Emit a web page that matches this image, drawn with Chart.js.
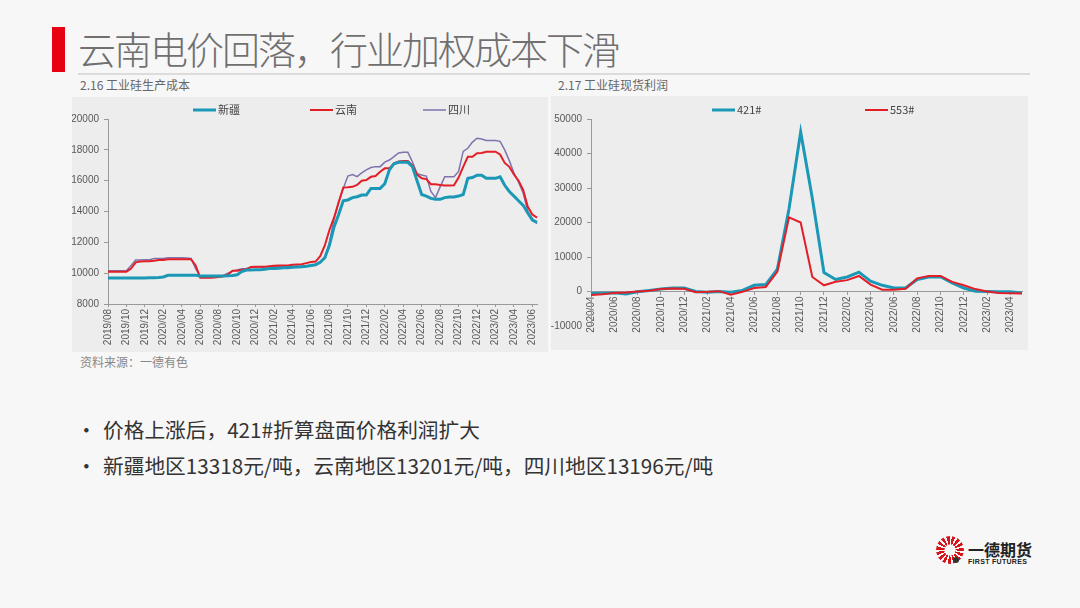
<!DOCTYPE html>
<html>
<head>
<meta charset="utf-8">
<script src="https://cdn.jsdelivr.net/npm/chart.js@4.4.1/dist/chart.umd.min.js"></script>
<style>
  body { margin:0; width:1080px; height:608px; background:#f7f7f7; position:relative; overflow:hidden;
         font-family:"Noto Sans CJK SC","Noto Sans",sans-serif; }
  .abs { position:absolute; white-space:nowrap; }
  #bar { left:52px; top:27px; width:13px; height:45px; background:#e60012; }
  #title { left:78px; top:29px; font-size:38px; line-height:38px; color:#707070; font-weight:300; letter-spacing:-2px; }
  #rule { left:78px; top:73px; width:952px; height:2px; background:#dcdcdc; }
  .sub { top:77px; font-size:12px; line-height:16px; color:#666; }
  .panel { background:#ededed; }
  #src { left:80px; top:354px; font-size:12px; line-height:16px; color:#888; }
  .bul { font-size:20.7px; line-height:24px; color:#333; }
  #logoMark { left:936px; top:536px; width:28px; height:28px; border-radius:50%;
              background:repeating-conic-gradient(from 200deg, #d7141a 0 14deg, #f7f7f7 14deg 24deg);
              -webkit-mask:radial-gradient(circle, transparent 0 5px, #000 6px); }
  #logoDot { left:953px; top:557px; width:6px; height:6px; border-radius:50%; background:#333; }
  #logoCn { left:968px; top:539px; font-size:16px; line-height:20px; font-weight:700; color:#222; }
  #logoEn { left:968px; top:557px; font-size:7px; line-height:9px; font-weight:700; color:#222;
            font-family:"Liberation Sans",Arial,sans-serif; letter-spacing:0.3px; }
</style>
</head>
<body>
<div class="abs" id="bar"></div>
<div class="abs" id="title">云南电价回落，行业加权成本下滑</div>
<div class="abs" id="rule"></div>
<div class="abs sub" style="left:80px">2.16 工业硅生产成本</div>
<div class="abs sub" style="left:558px">2.17 工业硅现货利润</div>

<div class="abs panel" style="left:72px;top:97px;width:476px;height:255px">
  <canvas id="cost" width="476" height="255"></canvas>
</div>
<div class="abs panel" style="left:551px;top:96px;width:477px;height:254px">
  <canvas id="profit" width="477" height="254"></canvas>
</div>

<div class="abs" id="src">资料来源：一德有色</div>
<div class="abs bul" style="left:76px;top:417px">•</div>
<div class="abs bul" style="left:103px;top:417px">价格上涨后，421#折算盘面价格利润扩大</div>
<div class="abs bul" style="left:76px;top:453px">•</div>
<div class="abs bul" style="left:103px;top:453px">新疆地区13318元/吨，云南地区13201元/吨，四川地区13196元/吨</div>

<div class="abs" id="logoMark"></div>
<div class="abs" id="logoDot"></div>
<div class="abs" id="logoCn">一德期货</div>
<div class="abs" id="logoEn">FIRST FUTURES</div>

<script>
// 2.16 production cost, two readings per month (yuan/ton)
const costMonths = [
  '2019/08','2019/09','2019/10','2019/11','2019/12',
  '2020/01','2020/02','2020/03','2020/04','2020/05','2020/06','2020/07','2020/08','2020/09','2020/10','2020/11','2020/12',
  '2021/01','2021/02','2021/03','2021/04','2021/05','2021/06','2021/07','2021/08','2021/09','2021/10','2021/11','2021/12',
  '2022/01','2022/02','2022/03','2022/04','2022/05','2022/06','2022/07','2022/08','2022/09','2022/10','2022/11','2022/12',
  '2023/01','2023/02','2023/03','2023/04','2023/05','2023/06'
];
const costLabels = costMonths.flatMap(m => [m, m]);

const xinjiang = [
  9680, 9680, 9680, 9680, 9680, 9680, 9680, 9680, 9690, 9700,
  9700, 9720, 9750, 9860, 9870, 9870, 9870, 9870, 9870, 9860,
  9820, 9820, 9820, 9820, 9820, 9820, 9830, 9850, 9900, 10100,
  10200, 10200, 10220, 10220, 10250, 10300, 10300, 10320, 10350, 10350,
  10380, 10400, 10420, 10450, 10500, 10550, 10700, 11000, 11800, 13000,
  13800, 14700, 14750, 14900, 14960, 15070, 15070, 15500, 15500, 15500,
  15800, 16700, 17100, 17190, 17190, 17190, 16900, 16000, 15100, 15000,
  14850, 14790, 14790, 14900, 14940, 14940, 15000, 15100, 16150, 16200,
  16350, 16350, 16150, 16150, 16150, 16250, 15700, 15300, 15000, 14700,
  14400, 13900, 13450, 13300
];
const yunnan = [
  10100, 10100, 10100, 10100, 10100, 10300, 10700, 10750, 10780, 10780,
  10800, 10850, 10850, 10900, 10900, 10900, 10900, 10900, 10900, 10500,
  9700, 9700, 9700, 9720, 9750, 9800, 9900, 10150, 10160, 10200,
  10250, 10400, 10420, 10420, 10420, 10450, 10480, 10490, 10490, 10500,
  10550, 10570, 10580, 10650, 10720, 10750, 11100, 11800, 12800, 13600,
  14600, 15550, 15570, 15600, 15720, 16000, 16040, 16250, 16300, 16580,
  16800, 16800, 17130, 17250, 17275, 17275, 17000, 16400, 16150, 16100,
  15770, 15770, 15720, 15680, 15680, 15700, 16200, 16900, 17550, 17550,
  17780, 17800, 17880, 17880, 17880, 17700, 17150, 16900, 16400, 16000,
  15400, 14300, 13800, 13600
];
const sichuan = [
  10150, 10150, 10150, 10150, 10150, 10500, 10850, 10850, 10870, 10870,
  10950, 10950, 10950, 11000, 11000, 11000, 11000, 10980, 10950, 10300,
  9780, 9780, 9780, 9800, 9800, 9850, 10000, 10150, 10200, 10280,
  10300, 10380, 10400, 10400, 10400, 10420, 10430, 10430, 10440, 10440,
  10450, 10450, 10450, 10480, 10500, 10550, 10700, 10950, 12000, 13500,
  14600, 15500, 16300, 16400, 16260, 16500, 16700, 16850, 16910, 16910,
  17200, 17340, 17555, 17800, 17840, 17840, 17230, 16450, 16370, 16300,
  15300, 14900, 15600, 16260, 16260, 16260, 16600, 17900, 18100, 18500,
  18750, 18700, 18600, 18600, 18600, 18550, 18000, 17300, 16500, 15900,
  15200, 14000, 13550, 13200
];
const costTicks = { min: 8000, max: 20000, step: 2000 };

// 2.17 spot profit, monthly
const profitMonths = [
  '2020/04','2020/05','2020/06','2020/07','2020/08','2020/09','2020/10','2020/11','2020/12',
  '2021/01','2021/02','2021/03','2021/04','2021/05','2021/06','2021/07','2021/08','2021/09','2021/10','2021/11','2021/12',
  '2022/01','2022/02','2022/03','2022/04','2022/05','2022/06','2022/07','2022/08','2022/09','2022/10','2022/11','2022/12',
  '2023/01','2023/02','2023/03','2023/04','2023/05'
];
const si421 = [
  -600, -500, -400, -700, -100, 300, 700, 1000, 1000, 0,
  -200, 0, -200, 300, 1800, 2000, 6500, 24000, 46200, 27000,
  5500, 3500, 4200, 5600, 3000, 1800, 1000, 1000, 3500, 4200,
  4300, 2500, 1000, 100, 0, -100, -100, -400
];
const si553 = [
  -1000, -800, -400, -300, 0, 200, 700, 900, 800, -200,
  -100, 100, -900, -100, 1000, 1300, 5800, 21500, 20000, 4200,
  1800, 2800, 3300, 4500, 2000, 500, 500, 800, 3800, 4500,
  4500, 2800, 1800, 700, 0, -400, -500, -600
];
const profitTicks = { min: -10000, max: 50000, step: 10000 };

const TEAL = '#1b98b6', RED = '#e41e26', PURPLE = '#7f72ad';
const tickFont = { family: '"Liberation Sans", Arial, sans-serif', size: 10 };

// small legend drawn at fixed spots (line sample + name)
const lineKey = {
  id: 'lineKey',
  afterDraw(chart, args, opts) {
    const ctx = chart.ctx;
    ctx.save();
    ctx.font = '11px "Noto Sans CJK SC", sans-serif';
    ctx.textBaseline = 'middle';
    chart.data.datasets.forEach((ds, i) => {
      const x = opts.x[i];
      ctx.strokeStyle = ds.borderColor;
      ctx.lineWidth = ds.borderWidth;
      ctx.beginPath();
      ctx.moveTo(x, opts.y);
      ctx.lineTo(x + 23, opts.y);
      ctx.stroke();
      ctx.fillStyle = '#444';
      ctx.fillText(ds.label, x + 25, opts.y);
    });
    ctx.restore();
  }
};

function line(label, data, color, width, order) {
  return { label, data, borderColor: color, backgroundColor: color, borderWidth: width,
           pointRadius: 0, tension: 0, fill: false, order };
}

Chart.defaults.animation = false;

new Chart(document.getElementById('cost'), {
  type: 'line',
  data: {
    labels: costLabels,
    datasets: [
      line('新疆', xinjiang, TEAL, 3, 0),
      line('云南', yunnan, RED, 2, 1),
      line('四川', sichuan, PURPLE, 1.5, 2)
    ]
  },
  options: {
    responsive: false,
    layout: { padding: { top: 22, right: 11, left: 0, bottom: 0 } },
    plugins: { legend: { display: false }, tooltip: { enabled: false },
               lineKey: { x: [121, 238, 351], y: 13 } },
    scales: {
      x: {
        grid: { drawOnChartArea: false, tickLength: 3, color: '#999' },
        border: { color: '#999' },
        ticks: {
          autoSkip: false, minRotation: 90, maxRotation: 90, padding: 2,
          font: tickFont, color: '#595959',
          callback: function (v, i) { return i % 4 === 0 ? this.getLabelForValue(v) : null; }
        },
        afterFit: s => { s.height = 48; }
      },
      y: {
        min: costTicks.min, max: costTicks.max,
        grid: { drawOnChartArea: false, tickLength: 4, color: '#999' },
        border: { color: '#999' },
        ticks: { stepSize: costTicks.step, font: tickFont, color: '#595959', padding: 5,
                 callback: v => String(v) },
        afterFit: s => { s.width = 36; }
      }
    }
  },
  plugins: [lineKey]
});

new Chart(document.getElementById('profit'), {
  type: 'line',
  data: {
    labels: profitMonths,
    datasets: [
      line('421#', si421, TEAL, 3, 1),
      line('553#', si553, RED, 2, 0)
    ]
  },
  options: {
    responsive: false,
    layout: { padding: { top: 23, right: 6, left: 0, bottom: 24 } },
    plugins: { legend: { display: false }, tooltip: { enabled: false },
               lineKey: { x: [161, 314], y: 14 } },
    scales: {
      x: {
        position: { y: 0 },
        grid: { drawOnChartArea: false, tickLength: 3, color: '#999' },
        border: { color: '#999' },
        ticks: {
          autoSkip: false, minRotation: 90, maxRotation: 90, padding: 2,
          font: tickFont, color: '#595959',
          callback: function (v, i) { return i % 2 === 0 ? this.getLabelForValue(v) : null; }
        }
      },
      y: {
        min: profitTicks.min, max: profitTicks.max,
        grid: { drawOnChartArea: false, tickLength: 4, color: '#999' },
        border: { color: '#999' },
        ticks: { stepSize: profitTicks.step, font: tickFont, color: '#595959', padding: 5,
                 callback: v => String(v) },
        afterFit: s => { s.width = 40; }
      }
    }
  },
  plugins: [lineKey]
});
</script>
</body>
</html>
